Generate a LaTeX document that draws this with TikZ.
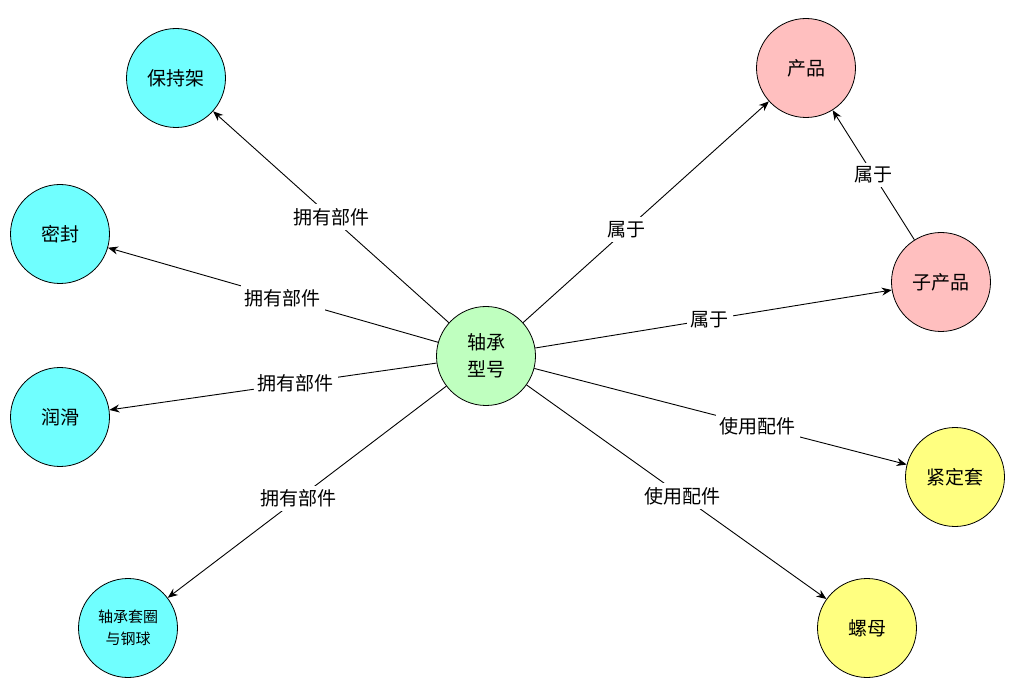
\documentclass[tikz,border=0pt]{standalone}
\usepackage{fontspec}
\setmainfont{Noto Sans CJK SC}
\usetikzlibrary{arrows.meta}
\definecolor{cy}{HTML}{70FFFF}
\definecolor{pk}{HTML}{FFBFBF}
\definecolor{gr}{HTML}{BFFFBF}
\definecolor{yl}{HTML}{FFFF80}
\begin{document}
\begin{tikzpicture}[x=1pt,y=-1pt,
  ent/.style={circle,draw,thick,minimum size=99pt,inner sep=0pt,align=center,font=\fontsize{19}{27}\selectfont},
  rel/.style={-{Stealth[length=10pt,width=8pt]},line width=0.9pt},
  lab/.style={fill=white,inner sep=4pt,font=\fontsize{19}{22}\selectfont}]
\useasboundingbox (0,0) rectangle (1020,692);
\node[ent,fill=gr] (c) at (486,356) {轴承\\型号};
\node[ent,fill=cy] (a1) at (176,78) {保持架};
\node[ent,fill=cy] (a2) at (60,234) {密封};
\node[ent,fill=cy] (a3) at (60,417) {润滑};
\node[ent,fill=cy,font=\fontsize{15}{22}\selectfont] (a4) at (128,628) {轴承套圈\\与钢球};
\node[ent,fill=pk] (p) at (806,68) {产品};
\node[ent,fill=pk] (sp) at (941,282) {子产品};
\node[ent,fill=yl] (y1) at (955,477) {紧定套};
\node[ent,fill=yl] (y2) at (867,628) {螺母};
\draw[rel] (c) -- node[lab,pos=0.5]{拥有部件} (a1);
\draw[rel] (c) -- node[lab,pos=0.47]{拥有部件} (a2);
\draw[rel] (c) -- node[lab,pos=0.43]{拥有部件} (a3);
\draw[rel] (c) -- node[lab,pos=0.53]{拥有部件} (a4);
\draw[rel] (c) -- node[lab,pos=0.42]{属于} (p);
\draw[rel] (c) -- node[lab,pos=0.49]{属于} (sp);
\draw[rel] (sp) -- node[lab,pos=0.5]{属于} (p);
\draw[rel] (c) -- node[lab,pos=0.6]{使用配件} (y1);
\draw[rel] (c) -- node[lab,pos=0.52]{使用配件} (y2);
\end{tikzpicture}
\end{document}
